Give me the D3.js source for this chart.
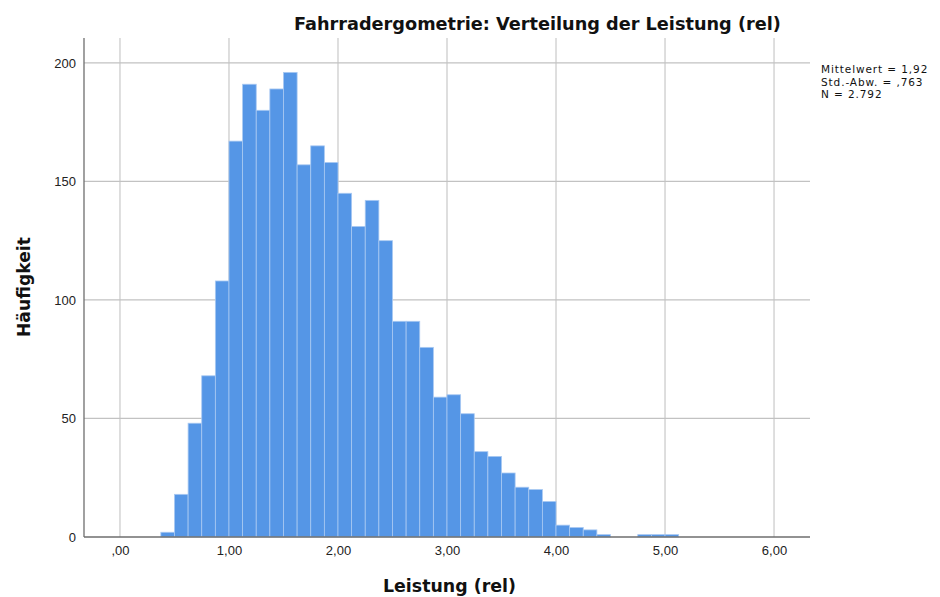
<!DOCTYPE html>
<html><head><meta charset="utf-8">
<script src="https://cdn.jsdelivr.net/npm/d3@7"></script>
<style>body{margin:0;background:#fff}svg{display:block}</style>
</head><body>
<svg id="c" width="940" height="597"></svg>
<script>
const binStart = 0.375, binWidth = 0.125;
const counts = [2,18,48,68,108,167,191,180,189,196,157,165,158,145,131,142,125,91,91,80,59,60,52,36,34,27,21,20,15,5,4,3,1,0,0,1,1,1];
const xTicks = [0,1,2,3,4,5,6];
const yTicks = [0,50,100,150,200];
const title = "Fahrradergometrie: Verteilung der Leistung (rel)";
const xLabel = "Leistung (rel)";
const yLabel = "Häufigkeit";
const stats = ["Mittelwert = 1,92","Std.-Abw. = ,763","N = 2.792"];

const bins = counts.map((c,i)=>({x0: binStart+i*binWidth, x1: binStart+(i+1)*binWidth, n:c}));
const L=84, R=810, T=38, B=537;
const x = d3.scaleLinear().domain([-0.33,6.33]).range([L,R]);
const y = d3.scaleLinear().domain([0,210.5]).range([B,T]);
const svg = d3.select("#c");
const font = "'DejaVu Sans', Verdana, sans-serif";
const tfont = "'Liberation Sans', Arial, sans-serif";
const fmt = v => { const s = d3.format(".2f")(v).replace(".",","); return s.startsWith("0") ? s.slice(1) : s; };
function fit(sel, w, base){ const n=sel.node(); const len=n.getComputedTextLength(); sel.attr("font-size", base*w/len); return sel; }

const g = svg.append("g");
g.selectAll(".gx").data(xTicks).join("line")
  .attr("x1",d=>x(d)).attr("x2",d=>x(d)).attr("y1",T).attr("y2",B)
  .attr("stroke","#cdcdcd").attr("stroke-width",1.3);
g.selectAll(".gy").data(yTicks.filter(d=>d>0)).join("line")
  .attr("x1",L).attr("x2",R).attr("y1",d=>y(d)).attr("y2",d=>y(d))
  .attr("stroke","#c2c2c2").attr("stroke-width",1.3);
g.selectAll(".bar").data(bins.filter(b=>b.n>0)).join("rect")
  .attr("x",d=>x(d.x0)).attr("width",d=>x(d.x1)-x(d.x0))
  .attr("y",d=>y(d.n)).attr("height",d=>y(0)-y(d.n))
  .attr("fill","#5596e6").attr("stroke","#a9c9f2").attr("stroke-width",0.8);
const xAxis = d3.axisBottom(x).tickValues(xTicks).tickFormat(fmt).tickSize(0).tickPadding(9);
const ax = svg.append("g").attr("transform",`translate(0,${B})`).call(xAxis);
ax.select(".domain").attr("d",`M${L},0H${R}`).attr("stroke","#6e6e6e").attr("stroke-width",1.3);
ax.selectAll("text").attr("font-family",tfont).attr("font-size",13).attr("fill","#222");
const yAxis = d3.axisLeft(y).tickValues(yTicks).tickSize(0).tickPadding(8);
const ay = svg.append("g").attr("transform",`translate(${L},0)`).call(yAxis);
ay.select(".domain").attr("d",`M0,${T}V${B}`).attr("stroke","#6e6e6e").attr("stroke-width",1.3);
ay.selectAll("text").attr("font-family",tfont).attr("font-size",13).attr("fill","#222");

fit(svg.append("text").attr("x",294).attr("y",30)
  .attr("font-family",font).attr("font-weight","bold").attr("font-size",17).attr("fill","#111").text(title), 487, 17);
fit(svg.append("text").attr("x",383).attr("y",592)
  .attr("font-family",font).attr("font-weight","bold").attr("font-size",18).attr("fill","#111").text(xLabel), 133, 18);
fit(svg.append("text").attr("transform","translate(30,337) rotate(-90)")
  .attr("font-family",font).attr("font-weight","bold").attr("font-size",18).attr("fill","#111").text(yLabel), 100, 18);
svg.append("g").selectAll("text").data(stats).join("text")
  .attr("x",821).attr("y",(d,i)=>73+i*12.5).attr("font-family",font).attr("font-size",10.5)
  .attr("letter-spacing",0.9).attr("fill","#111").text(d=>d);
</script>
</body></html>
